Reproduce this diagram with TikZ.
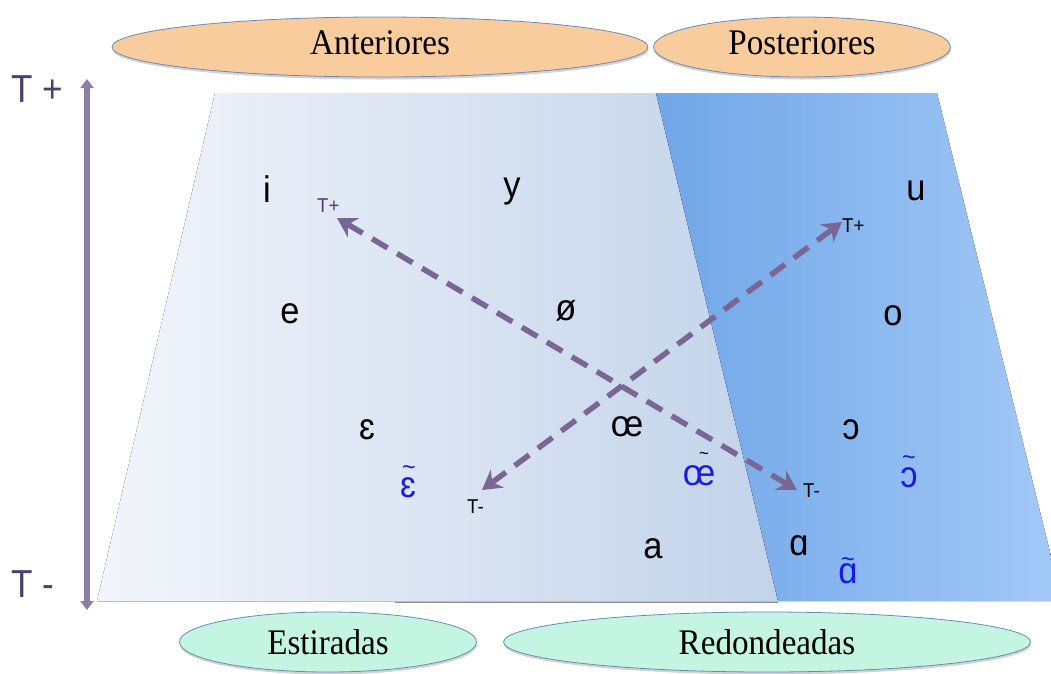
\documentclass[tikz,border=0pt]{standalone}
\usepackage{fontspec}
\setmainfont{Liberation Serif}
\newfontfamily\ellfont[FakeStretch=0.92]{Liberation Serif}
\newfontfamily\vsans[FakeStretch=0.93]{Liberation Sans}
\newfontfamily\lsans[FakeStretch=0.9]{Liberation Sans}
\usetikzlibrary{arrows.meta,shapes.geometric,shadows}
\definecolor{peach}{HTML}{F9CC9D}
\definecolor{mint}{HTML}{C3F5E2}
\definecolor{edgeblue}{HTML}{6A8AB5}
\definecolor{lightL}{HTML}{F2F5FB}
\definecolor{lightR}{HTML}{C3D3EA}
\definecolor{blueL}{HTML}{70A6E7}
\definecolor{blueR}{HTML}{A3C9F7}
\definecolor{dashpurple}{HTML}{7A6694}
\definecolor{axispurple}{HTML}{8C7DA5}
\definecolor{labelpurple}{HTML}{4F3F6B}
\definecolor{nasal}{HTML}{1A1AE6}
\tikzset{
  ell/.style={ellipse, draw=edgeblue, line width=0.8pt, inner sep=0pt,
    font=\ellfont\fontsize{36}{38}\selectfont,
    drop shadow={opacity=0.35, shadow xshift=0.5pt, shadow yshift=-2.5pt}},
  vowel/.style={anchor=base, inner sep=0pt, font=\vsans\fontsize{37}{38}\selectfont},
  nvowel/.style={vowel, text=nasal},
  tildemark/.style={anchor=base, inner sep=0pt, font=\vsans\fontsize{25}{25}\selectfont},
  small/.style={anchor=base west, inner sep=0pt, font=\vsans\fontsize{20}{21}\selectfont},
  big/.style={anchor=base west, inner sep=0pt, text=labelpurple, font=\lsans\fontsize{39}{40}\selectfont},
  dasharrow/.style={draw=dashpurple, line width=5.5pt, dash pattern=on 18pt off 11pt,
    {Stealth[length=19pt,width=22pt]}-{Stealth[length=19pt,width=22pt]}},
  axis/.style={draw=axispurple, line width=6.5pt,
    {Triangle[length=9pt,width=13pt]}-{Triangle[length=9pt,width=13pt]}}
}
\begin{document}
\begin{tikzpicture}[x=1pt,y=-1pt]
\useasboundingbox (0,0) rectangle (1051,673);
\begin{scope}
\clip (0,0) rectangle (1051,673);
\fill[left color=lightL,right color=lightR] (215,93) -- (656,93) -- (778,601) -- (97,601) -- cycle;
\fill[left color=blueL,right color=blueR] (656,93) -- (937,93) -- (1062,601) -- (778,601) -- cycle;
\end{scope}
\draw[black!25, line width=1pt] (97,601) -- (778,601);
\draw[black!45, line width=1.6pt] (395,602.5) -- (778,602.5);

% ellipses
\node[ell, fill=peach, minimum width=536pt, minimum height=60pt, text depth=9pt] (ant) at (380,47) {Anteriores};
\node[ell, fill=peach, minimum width=297pt, minimum height=60pt, text depth=9pt] (post) at (802,47) {Posteriores};
\node[ell, fill=mint, minimum width=297pt, minimum height=60pt] (est) at (328,642) {Estiradas};
\node[ell, fill=mint, minimum width=527pt, minimum height=60pt] (red) at (767,642) {Redondeadas};

% vertical axis
\coordinate (axtop) at (87,79);
\coordinate (axbot) at (87,610);
\draw[axis] (axbot) -- (axtop);
\node[big] (tplus) at (11,102) {T +};
\node[big] (tminus) at (11,597) {T -};

% vowels
\node[vowel] (vi) at (267,202) {i};
\node[vowel] (vy) at (512,197) {y};
\node[vowel] (vu) at (916,200) {u};
\node[vowel] (ve) at (290,323) {e};
\node[vowel] (voe) at (566,320) {ø};
\node[vowel] (vo) at (893,325) {o};
\node[vowel] (veps) at (367,439) {ɛ};
\node[vowel] (voel) at (627,436) {œ};
\node[vowel] (vopen) at (851,439) {ɔ};
\node[nvowel] (neps) at (408,497) {ɛ};
\node[nvowel] (noel) at (699,485) {œ};
\node[nvowel] (nopen) at (909,487) {ɔ};
\node[vowel] (va) at (653,558) {a};
\node[vowel] (vback) at (799,555) {ɑ};
\node[nvowel] (nback) at (848,583) {ɑ};

% tildes of the nasal vowels
\node[tildemark, text=nasal] (tneps) at (409,475) {\char`\~};
\node[tildemark, text=black, font=\vsans\fontsize{18}{18}\selectfont] (tnoel) at (704,459) {\char`\~};
\node[tildemark, text=nasal] (tnopen) at (909,465) {\char`\~};
\node[tildemark, text=nasal] (tnback) at (848,567) {\char`\~};

% small labels
\node[small, text=labelpurple] (lp1) at (317,212) {T+};
\node[small] (lm1) at (803,497) {T-};
\node[small] (lp2) at (842,232) {T+};
\node[small] (lm2) at (467,513) {T-};

% dashed arrows
\coordinate (a1) at (337,218);
\coordinate (a2) at (797,490);
\coordinate (b1) at (842,222);
\coordinate (b2) at (482,490);
\draw[dasharrow] (a1) -- (a2);
\draw[dasharrow] (b2) -- (b1);
\end{tikzpicture}
\end{document}
